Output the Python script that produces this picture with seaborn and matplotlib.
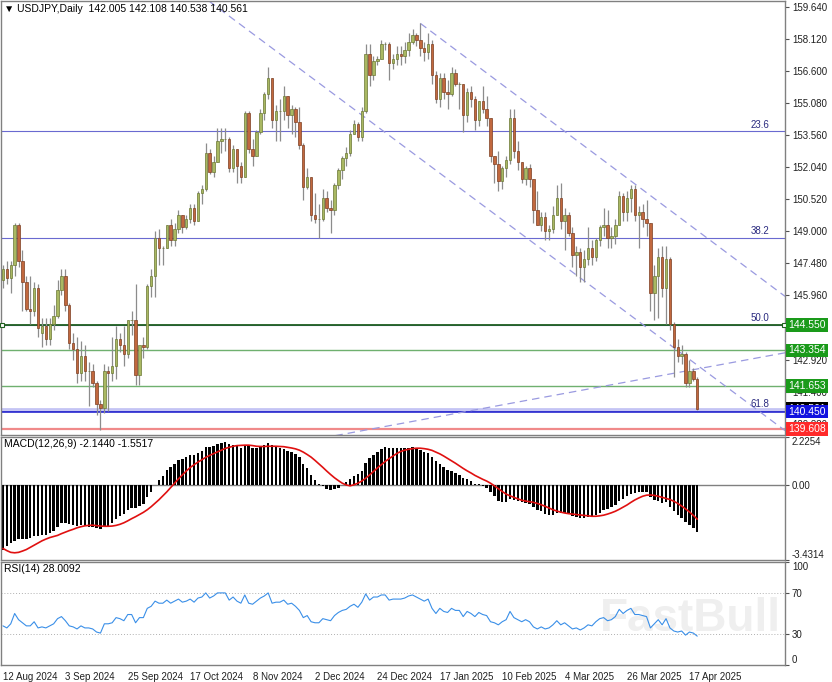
import numpy as np
import matplotlib
matplotlib.use("Agg")
import matplotlib.pyplot as plt
import matplotlib.transforms as mtransforms
import seaborn as sns

# ---------------- data ----------------
opens = [146.7, 147.2, 146.8, 147.4, 149.3, 147.6, 146.6, 145.3, 145.2, 146.3,
         144.2, 144.5, 143.9, 144.6, 145.0, 146.2, 146.9, 145.5, 143.7, 143.4,
         142.3, 143.1, 142.4, 142.4, 141.8, 140.8, 140.6, 142.4, 142.3, 142.6,
         143.9, 143.6, 143.2, 144.8, 144.8, 142.2, 143.6, 143.5, 146.4, 146.9,
         148.7, 148.2, 148.2, 149.3, 148.6, 149.1, 149.8, 149.2, 149.6, 150.1,
         149.5, 150.8, 151.0, 152.7, 151.8, 152.3, 153.3, 153.4, 153.4, 152.0,
         152.9, 152.1, 151.6, 154.6, 152.9, 152.6, 153.7, 154.6, 155.5, 156.3,
         154.3, 154.7, 154.7, 155.4, 154.5, 154.8, 154.2, 153.1, 151.1, 151.6,
         149.8, 149.6, 149.6, 150.6, 150.1, 150.0, 151.2, 151.9, 152.5, 152.7,
         153.6, 154.1, 153.5, 154.7, 157.4, 156.4, 157.1, 157.2, 157.9, 157.9,
         157.0, 157.2, 157.4, 157.3, 157.6, 158.0, 158.3, 158.1, 157.7, 157.5,
         157.9, 156.4, 155.3, 156.3, 155.6, 155.5, 156.5, 156.0, 156.0, 154.5,
         155.6, 155.3, 154.3, 155.2, 154.8, 154.4, 152.6, 152.2, 151.4, 152.0,
         152.4, 154.4, 152.8, 152.3, 151.5, 152.0, 151.5, 150.0, 149.3, 149.7,
         149.0, 149.1, 149.8, 150.6, 149.5, 149.8, 148.9, 147.9, 148.0, 147.3,
         147.7, 148.2, 147.8, 148.6, 149.2, 149.3, 148.7, 148.8, 149.3, 150.7,
         149.9, 150.6, 151.0, 149.8, 149.9, 149.6, 149.4, 146.1, 146.9, 147.8,
         146.3, 147.7, 144.6, 143.5, 143.1, 143.2, 141.8, 142.4, 142.005]
highs = [147.4, 147.6, 147.6, 149.4, 149.4, 148.1, 146.9, 146.9, 146.6, 146.5,
         144.9, 144.9, 144.9, 145.5, 146.7, 147.2, 147.2, 145.6, 144.2, 144.0,
         143.8, 143.6, 142.8, 142.7, 141.9, 141.0, 142.7, 142.6, 144.0, 144.5,
         144.2, 144.5, 144.8, 145.2, 146.5, 143.0, 144.0, 146.5, 147.2, 149.0,
         149.1, 148.3, 149.3, 149.6, 149.4, 150.0, 149.8, 149.8, 150.3, 150.3,
         150.9, 151.2, 153.2, 152.9, 152.6, 153.9, 153.9, 153.9, 153.5, 153.1,
         152.9, 152.3, 154.7, 154.7, 153.4, 153.8, 154.8, 155.6, 156.8, 156.3,
         155.0, 155.3, 155.9, 155.4, 155.0, 154.9, 154.9, 153.2, 152.0, 151.6,
         150.8, 150.3, 151.0, 150.9, 150.5, 151.3, 152.0, 152.6, 153.0, 153.8,
         154.3, 154.2, 154.9, 157.9, 157.9, 157.3, 157.3, 158.1, 158.0, 158.0,
         157.4, 157.8, 157.8, 158.0, 158.4, 158.6, 158.4, 158.9, 158.0, 158.4,
         158.1, 156.6, 156.5, 156.5, 156.2, 156.8, 156.7, 156.1, 156.0, 155.8,
         155.9, 155.4, 155.2, 155.9, 155.4, 154.4, 152.6, 152.8, 152.1, 152.6,
         154.8, 154.8, 153.3, 152.3, 152.1, 152.2, 151.5, 150.9, 149.9, 149.9,
         149.3, 150.2, 151.2, 151.3, 150.1, 149.9, 149.2, 148.3, 148.2, 148.1,
         149.2, 148.6, 148.7, 149.3, 150.1, 150.0, 149.2, 149.6, 150.9, 150.8,
         150.9, 151.2, 151.2, 150.2, 150.3, 150.5, 149.4, 147.4, 148.2, 148.3,
         148.3, 147.8, 144.7, 143.9, 143.6, 143.3, 142.9, 142.5, 142.108]
lows = [146.3, 146.5, 146.1, 146.9, 147.3, 145.2, 145.2, 144.6, 145.0, 144.0,
        143.5, 143.6, 143.6, 144.3, 144.9, 146.0, 145.2, 143.4, 142.9, 141.8,
        141.9, 141.9, 140.7, 141.6, 140.3, 139.6, 140.4, 140.5, 141.9, 142.0,
        143.3, 142.6, 143.0, 144.1, 141.7, 141.7, 143.0, 143.4, 145.9, 145.9,
        147.4, 147.4, 148.2, 148.3, 148.3, 148.9, 148.9, 149.1, 149.4, 149.3,
        149.5, 150.3, 150.9, 151.7, 151.6, 152.3, 152.7, 152.8, 151.8, 151.8,
        151.3, 151.3, 151.6, 152.7, 152.1, 152.6, 153.6, 154.3, 155.3, 153.9,
        153.3, 153.3, 154.3, 153.9, 153.6, 153.5, 152.9, 150.5, 151.0, 149.5,
        149.4, 148.7, 149.5, 149.9, 148.9, 149.8, 151.0, 151.5, 152.1, 152.6,
        153.6, 153.3, 153.3, 154.6, 155.9, 156.2, 156.9, 157.2, 157.6, 156.2,
        156.7, 156.9, 156.9, 157.0, 157.3, 157.9, 157.8, 157.3, 157.1, 157.2,
        156.0, 155.1, 154.9, 155.3, 154.8, 155.4, 155.9, 154.8, 153.7, 154.2,
        154.9, 153.8, 154.0, 154.6, 154.0, 152.3, 151.3, 150.9, 151.0, 151.6,
        152.2, 152.5, 151.9, 151.3, 151.2, 151.1, 149.4, 149.3, 149.0, 148.6,
        148.6, 148.9, 149.8, 149.1, 148.1, 148.8, 147.3, 146.9, 146.6, 146.6,
        147.4, 147.4, 147.6, 148.3, 148.8, 148.2, 148.2, 148.4, 149.3, 149.5,
        149.5, 149.9, 149.5, 148.2, 149.2, 148.8, 145.2, 144.8, 144.9, 145.9,
        144.6, 144.3, 142.1, 142.8, 142.7, 141.6, 141.6, 141.9, 140.538]
closes = [147.2, 146.8, 147.4, 149.3, 147.6, 146.6, 145.3, 145.2, 146.3, 144.4,
          144.5, 143.9, 144.6, 145.0, 146.2, 146.9, 145.5, 143.7, 143.4, 142.3,
          143.1, 142.4, 142.4, 141.8, 140.8, 140.6, 142.4, 142.3, 142.6, 143.9,
          143.6, 143.2, 144.8, 144.8, 142.2, 143.6, 143.5, 146.4, 146.9, 148.7,
          148.2, 148.2, 149.3, 148.6, 149.1, 149.8, 149.2, 149.6, 150.1, 149.5,
          150.8, 151.0, 152.7, 151.8, 152.3, 153.3, 153.4, 153.4, 152.0, 152.9,
          152.1, 151.6, 154.6, 152.9, 152.6, 153.7, 154.6, 155.5, 156.3, 154.3,
          154.7, 154.7, 155.4, 154.5, 154.8, 154.2, 153.1, 151.1, 151.6, 149.8,
          149.6, 149.6, 150.6, 150.1, 150.0, 151.2, 151.9, 152.5, 152.7, 153.6,
          154.1, 153.5, 154.7, 157.4, 156.4, 157.1, 157.2, 157.9, 157.9, 157.0,
          157.2, 157.4, 157.3, 157.6, 158.0, 158.3, 158.1, 157.7, 157.5, 157.9,
          156.4, 155.3, 156.3, 155.6, 155.5, 156.5, 156.0, 156.0, 154.5, 155.6,
          155.3, 154.3, 155.2, 154.8, 154.4, 152.6, 152.2, 151.4, 152.0, 152.4,
          154.4, 152.8, 152.3, 151.5, 152.0, 151.5, 150.0, 149.3, 149.7, 149.0,
          149.1, 149.8, 150.6, 149.5, 149.8, 148.9, 147.9, 148.0, 147.3, 147.7,
          148.2, 147.8, 148.6, 149.2, 149.3, 148.7, 148.8, 149.3, 150.7, 149.9,
          150.6, 151.0, 149.8, 149.9, 149.6, 149.4, 146.1, 146.9, 147.8, 146.3,
          147.7, 144.6, 143.5, 143.1, 143.2, 141.8, 142.4, 142.0, 140.561]

macd_main = [-2.95, -2.80, -2.66, -2.55, -2.48, -2.45, -2.45, -2.40, -2.33, -2.35,
             -2.30, -2.28, -2.20, -2.10, -1.90, -1.73, -1.72, -1.78, -1.80, -1.85,
             -1.83, -1.86, -1.90, -1.93, -1.98, -2.00, -1.92, -1.85, -1.72, -1.55,
             -1.40, -1.30, -1.14, -1.02, -1.05, -0.95, -0.85, -0.55, -0.30, 0.00,
             0.25, 0.45, 0.70, 0.85, 1.00, 1.15, 1.22, 1.30, 1.40, 1.42,
             1.50, 1.58, 1.75, 1.78, 1.82, 1.90, 1.95, 1.98, 1.90, 1.88,
             1.80, 1.70, 1.85, 1.80, 1.72, 1.70, 1.75, 1.85, 1.95, 1.85,
             1.78, 1.70, 1.68, 1.60, 1.55, 1.45, 1.30, 1.00, 0.82, 0.50,
             0.25, 0.05, -0.05, -0.15, -0.22, -0.18, -0.10, 0.02, 0.15, 0.30,
             0.45, 0.52, 0.68, 1.05, 1.25, 1.42, 1.55, 1.68, 1.75, 1.72,
             1.72, 1.72, 1.70, 1.70, 1.72, 1.75, 1.72, 1.65, 1.55, 1.50,
             1.32, 1.10, 1.00, 0.85, 0.72, 0.68, 0.58, 0.50, 0.32, 0.28,
             0.20, 0.08, 0.05, -0.02, -0.10, -0.32, -0.50, -0.70, -0.75, -0.78,
             -0.62, -0.65, -0.70, -0.78, -0.80, -0.85, -0.98, -1.12, -1.20, -1.30,
             -1.35, -1.35, -1.28, -1.28, -1.25, -1.30, -1.40, -1.45, -1.50, -1.50,
             -1.45, -1.42, -1.35, -1.25, -1.15, -1.08, -1.00, -0.90, -0.72, -0.62,
             -0.50, -0.38, -0.35, -0.30, -0.30, -0.30, -0.55, -0.68, -0.70, -0.80,
             -0.78, -0.98, -1.20, -1.38, -1.50, -1.70, -1.82, -1.95, -2.144]
macd_signal = [-2.90, -3.00, -3.08, -3.10, -3.08, -3.02, -2.95, -2.85, -2.75, -2.65,
               -2.55, -2.47, -2.40, -2.35, -2.30, -2.22, -2.15, -2.08, -2.02, -1.95,
               -1.90, -1.86, -1.84, -1.83, -1.85, -1.87, -1.88, -1.88, -1.87, -1.84,
               -1.79, -1.72, -1.63, -1.53, -1.44, -1.34, -1.24, -1.12, -0.98, -0.82,
               -0.66, -0.48, -0.30, -0.10, 0.10, 0.30, 0.48, 0.66, 0.82, 0.95,
               1.07, 1.18, 1.29, 1.38, 1.46, 1.54, 1.62, 1.70, 1.75, 1.80,
               1.83, 1.84, 1.85, 1.85, 1.83, 1.80, 1.79, 1.79, 1.80, 1.80,
               1.80, 1.79, 1.78, 1.75, 1.72, 1.68, 1.62, 1.53, 1.42, 1.30,
               1.15, 0.99, 0.83, 0.66, 0.50, 0.35, 0.22, 0.10, 0.02, -0.02,
               0.03, 0.10, 0.20, 0.33, 0.48, 0.64, 0.80, 0.95, 1.10, 1.23,
               1.35, 1.47, 1.56, 1.62, 1.66, 1.69, 1.71, 1.71, 1.69, 1.66,
               1.61, 1.53, 1.45, 1.35, 1.24, 1.13, 1.02, 0.90, 0.78, 0.67,
               0.57, 0.46, 0.37, 0.28, 0.20, 0.10, -0.02, -0.15, -0.28, -0.40,
               -0.48, -0.55, -0.62, -0.68, -0.72, -0.75, -0.78, -0.83, -0.89, -0.96,
               -1.04, -1.12, -1.18, -1.23, -1.27, -1.30, -1.32, -1.34, -1.36, -1.38,
               -1.40, -1.42, -1.42, -1.40, -1.37, -1.32, -1.26, -1.19, -1.10, -1.00,
               -0.90, -0.78, -0.67, -0.58, -0.50, -0.45, -0.44, -0.46, -0.50, -0.55,
               -0.60, -0.65, -0.73, -0.83, -0.95, -1.08, -1.22, -1.38, -1.5517]
rsi_values = [38, 36, 40, 50, 44, 41, 38, 38, 42, 36,
              37, 36, 38, 40, 45, 47, 43, 38, 37, 35,
              38, 36, 36, 35, 32, 31, 40, 40, 41, 46,
              45, 43, 49, 49, 41, 46, 46, 55, 57, 62,
              60, 60, 63, 60, 62, 64, 61, 62, 64, 61,
              65, 66, 70, 65, 67, 70, 70, 70, 63, 66,
              62, 60, 68, 60, 59, 62, 65, 67, 70, 60,
              61, 61, 63, 59, 60, 57, 53, 46, 48, 42,
              41, 41, 45, 44, 43, 48, 51, 53, 54, 57,
              59, 56, 61, 69, 63, 66, 66, 68, 68, 63,
              64, 64, 64, 65, 67, 68, 66, 64, 62, 64,
              55, 50, 55, 52, 51, 55, 53, 53, 47, 52,
              50, 47, 51, 49, 48, 42, 41, 39, 42, 44,
              52, 46, 44, 42, 44, 42, 37, 35, 37, 35,
              36, 39, 43, 39, 41, 38, 35, 36, 34, 36,
              39, 38, 42, 45, 46, 43, 44, 47, 54, 50,
              53, 55, 49, 49, 48, 47, 36, 40, 44, 39,
              45, 36, 33, 32, 33, 29, 32, 31, 28.0092]

date_labels = ["12 Aug 2024", "3 Sep 2024", "25 Sep 2024", "17 Oct 2024", "8 Nov 2024",
               "2 Dec 2024", "24 Dec 2024", "17 Jan 2025", "10 Feb 2025", "4 Mar 2025",
               "26 Mar 2025", "17 Apr 2025"]
label_step = 16

price_ticks = [159.640, 158.120, 156.600, 155.080, 153.560, 152.040, 150.520,
               149.000, 147.480, 145.960, 144.440, 142.920, 141.400, 139.880]

fib_names = ["23.6", "38.2", "50.0", "61.8"]
fib_levels = [153.75, 148.68, 144.58, 140.47]

level_prices = [144.550, 143.354, 141.653, 140.450, 139.608]
bid_price = 140.561

# dashed trend lines: (bar index, price) pairs
trend_upper = [(107, 158.87), (200.5, 145.92)]
trend_lower = [(52.8, 159.93), (200.5, 139.55)]
trend_rising = [(60, 138.45), (200.5, 143.24)]

macd_top, macd_bottom = 2.2254, -3.4314

# ---------------- figure ----------------
sns.set_theme(style="white")
plt.rcParams["font.family"] = ["Liberation Sans", "DejaVu Sans"]

W, H = 832, 682
fig = plt.figure(figsize=(W / 100, H / 100), dpi=100)
fig.patch.set_facecolor("white")


def px_rect(left, top, right, bottom):
    return [left / W, 1 - bottom / H, (right - left) / W, (bottom - top) / H]


ax = fig.add_axes(px_rect(1, 1, 785, 435))
ax_macd = fig.add_axes(px_rect(1, 437, 785, 560), sharex=ax)
ax_rsi = fig.add_axes(px_rect(1, 562, 785, 665), sharex=ax)

n = len(closes)
x = np.arange(n)
o = np.array(opens)
c = np.array(closes)
hi = np.array(highs)
lo = np.array(lows)

frame_color = "#808080"
for a in (ax, ax_macd, ax_rsi):
    a.set_facecolor("white")
    for sp in a.spines.values():
        sp.set_color(frame_color)
        sp.set_linewidth(1.0)
    a.yaxis.tick_right()
    a.tick_params(axis="y", which="both", direction="out", length=3, width=0.8,
                  colors="#505050", labelsize=7, pad=2, labelcolor="#202020")
    a.grid(False)

ax.set_xlim(-0.5, 200.5)
ax.set_ylim(139.34, 159.93)

# candles
bull = c >= o
ax.vlines(x, lo, hi, color="#8c8c8c", lw=0.9, zorder=2)
ax.bar(x[bull], (c - o)[bull], bottom=o[bull], width=0.62, color="#a9b862",
       edgecolor="#6b7835", lw=0.5, zorder=3)
ax.bar(x[~bull], (c - o)[~bull], bottom=o[~bull], width=0.62, color="#c1683e",
       edgecolor="#7d3f22", lw=0.5, zorder=3)

# horizontal levels
for name, lev in zip(fib_names, fib_levels):
    ax.axhline(lev, color="#6a6ad0", lw=0.8, zorder=1)
    ax.text(196.5, lev + 0.08, name, color="#2b2b80", fontsize=7, ha="right", va="bottom")

ax.axhline(level_prices[0], color="#1f5f1f", lw=1.3, zorder=1)
ax.axhline(level_prices[1], color="#6fb06f", lw=1.0, zorder=1)
ax.axhline(level_prices[2], color="#6fb06f", lw=1.0, zorder=1)
ax.axhline(bid_price, color="#c4c4f4", lw=2.0, zorder=1)
ax.axhline(level_prices[3], color="#2a2ad0", lw=1.2, zorder=1)
ax.axhline(level_prices[4], color="#f08a8a", lw=1.6, zorder=1)
ax.plot([-0.3, 200.3], [level_prices[0]] * 2, ls="none", marker="s", ms=3,
        mfc="white", mec="#1f5f1f", mew=0.8, clip_on=False, zorder=4)

# dashed trend lines
for seg in (trend_upper, trend_lower, trend_rising):
    (x0, y0), (x1, y1) = seg
    ax.plot([x0, x1], [y0, y1], color="#9a9ae0", lw=0.9, ls=(0, (6, 4)), zorder=1)

ax.set_yticks(price_ticks)
ax.set_yticklabels([f"{t:.3f}" for t in price_ticks])

# price boxes on the right scale
ytrans = mtransforms.blended_transform_factory(ax.transAxes, ax.transData)
boxes = [(bid_price, "#000000"), (level_prices[4], "#ff2a2a"), (level_prices[3], "#1212e0"),
         (level_prices[2], "#1a9a1a"), (level_prices[1], "#1a9a1a"), (level_prices[0], "#1a9a1a")]
for price, col in boxes:
    ax.text(1.004, price, f"{price:.3f}", transform=ytrans, ha="left", va="center",
            fontsize=7.5, color="white", zorder=6, clip_on=False,
            bbox=dict(boxstyle="square,pad=0.18", fc=col, ec="none"))

ax.text(0.004, 0.992, "\u25bc USDJPY,Daily  142.005 142.108 140.538 140.561",
        transform=ax.transAxes, fontsize=7.5, va="top", ha="left", color="#000000",
        family=["Liberation Sans", "DejaVu Sans"])

# ---------------- MACD ----------------
ax_macd.set_ylim(macd_bottom, macd_top)
ax_macd.axhline(0, color="#808080", lw=1.0, zorder=1)
ax_macd.bar(x, macd_main, width=0.62, color="black", lw=0, zorder=2)
sns.lineplot(x=x, y=macd_signal, ax=ax_macd, color="#e01010", lw=1.2, zorder=3)
ax_macd.set_yticks([macd_top, 0.0, macd_bottom])
ax_macd.set_yticklabels(["2.2254", "0.00", "-3.4314"])
tl = ax_macd.get_yticklabels()
tl[0].set_va("top")
tl[2].set_va("bottom")
ax_macd.text(0.004, 0.985, "MACD(12,26,9) -2.1440 -1.5517", transform=ax_macd.transAxes,
             fontsize=7.5, va="top", ha="left", color="#000000")

# ---------------- RSI ----------------
ax_rsi.set_ylim(0, 100)
ax_rsi.text(0.995, 0.45, "FastBull", transform=ax_rsi.transAxes, fontsize=33,
            fontweight="bold", color="#efefef", ha="right", va="center", zorder=0)
for lev in (70, 30):
    ax_rsi.axhline(lev, color="#b0b0b0", lw=0.7, ls=(0, (1, 2)), zorder=1)
sns.lineplot(x=x, y=rsi_values, ax=ax_rsi, color="#3a8fe8", lw=0.8, zorder=3)
ax_rsi.set_yticks([100, 70, 30, 0])
ax_rsi.set_yticklabels(["100", "70", "30", "0"])
rl = ax_rsi.get_yticklabels()
rl[0].set_va("top")
rl[3].set_va("bottom")
ax_rsi.text(0.004, 0.985, "RSI(14) 28.0092", transform=ax_rsi.transAxes,
            fontsize=7.5, va="top", ha="left", color="#000000")

# x axis labels
tick_pos = np.arange(len(date_labels)) * label_step
for a in (ax, ax_macd):
    a.tick_params(axis="x", bottom=False, labelbottom=False)
ax_rsi.set_xticks(tick_pos)
ax_rsi.set_xticklabels(date_labels)
ax_rsi.tick_params(axis="x", direction="out", length=3, width=0.8, colors="#505050",
                   labelsize=7, pad=2, labelcolor="#202020")
plt.setp(ax_rsi.get_xticklabels(), ha="left")
ax_rsi.set_xlim(-0.5, 200.5)

fig.savefig("out.png", dpi=100, facecolor="white")
